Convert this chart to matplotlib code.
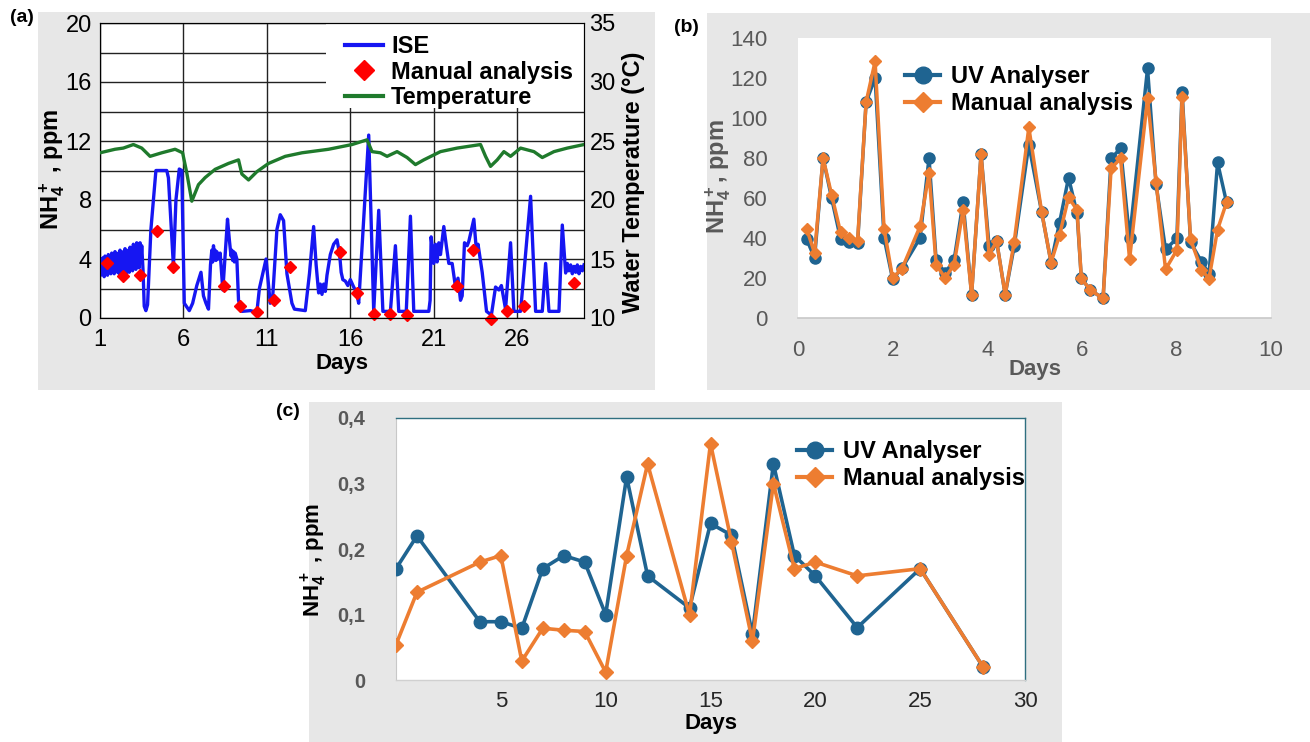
import matplotlib
matplotlib.use('Agg')
import matplotlib.pyplot as plt
from matplotlib.patches import Rectangle
from matplotlib.lines import Line2D

# ---------------- data : panel (a) ----------------
ise_day = [1.00, 1.05, 1.10, 1.15, 1.20, 1.25, 1.30, 1.35, 1.40, 1.45, 1.50, 1.55, 1.60, 1.65,
           1.70, 1.75, 1.80, 1.85, 1.90, 1.95, 2.00, 2.05, 2.10, 2.15, 2.20, 2.25, 2.30, 2.35,
           2.40, 2.45, 2.50, 2.55, 2.60, 2.65, 2.70, 2.75, 2.80, 2.85, 2.90, 2.95, 3.00, 3.05,
           3.10, 3.15, 3.20, 3.25, 3.30, 3.35, 3.40, 3.45, 3.50, 3.58, 3.65, 3.75, 3.85, 4.05,
           4.35, 4.50, 5.00, 5.10, 5.40, 5.55, 5.75, 5.90, 6.05, 6.35, 6.55, 6.80, 7.05, 7.20,
           7.35, 7.50, 7.62, 7.70, 7.75, 7.80, 7.85, 7.90, 7.95, 8.00, 8.08, 8.20, 8.36, 8.64,
           8.75, 8.85, 8.90, 8.95, 9.00, 9.05, 9.10, 9.20, 9.30, 9.50, 10.00, 10.40, 10.55, 10.95,
           11.20, 11.35, 11.60, 11.80, 12.00, 12.20, 12.50, 12.65, 13.30, 13.55, 13.80, 13.95,
           14.10, 14.20, 14.30, 14.40, 14.50, 14.60, 14.80, 15.00, 15.20, 15.35, 15.45, 15.55,
           15.70, 15.85, 16.00, 16.20, 16.35, 16.50, 17.10, 17.40, 17.70, 17.95, 18.40, 18.70,
           18.90, 19.35, 19.60, 19.80, 20.70, 20.78, 20.84, 21.00, 21.10, 21.20, 21.30, 21.40,
           21.60, 21.75, 21.90, 22.10, 22.30, 22.45, 22.60, 22.70, 22.84, 23.00, 23.10, 23.40,
           23.55, 23.65, 23.90, 24.16, 24.45, 24.70, 24.90, 25.05, 25.30, 25.60, 25.80, 26.20,
           26.80, 27.10, 27.50, 27.70, 27.90, 28.50, 28.70, 28.90, 29.00, 29.10, 29.20, 29.30,
           29.40, 29.50, 29.60, 29.70, 29.80, 29.90, 30.00]
ise_val = [3.5, 2.9, 4.0, 3.0, 4.1, 2.8, 4.2, 3.1, 4.0, 2.9, 4.3, 3.2, 4.1, 3.0,
           4.4, 3.1, 4.2, 3.0, 4.5, 3.2, 4.3, 3.1, 4.4, 3.0, 4.6, 3.3, 4.4, 3.1,
           4.5, 3.2, 4.7, 3.0, 4.5, 3.3, 4.6, 3.1, 4.8, 3.4, 4.6, 3.2, 5.0, 3.5,
           4.9, 3.3, 5.1, 3.6, 5.0, 3.4, 5.1, 3.8, 4.9, 3.2, 0.8, 0.5, 0.9, 6.0,
           10.0, 10.0, 10.0, 9.5, 3.5, 8.0, 10.1, 10.0, 1.0, 0.5, 1.0, 2.2, 3.1, 1.5,
           1.0, 0.6, 3.6, 4.6, 3.8, 4.9, 4.0, 4.6, 3.9, 4.5, 4.0, 4.4, 1.9, 6.7,
           5.3, 4.2, 4.6, 3.9, 4.5, 3.8, 4.4, 4.0, 1.2, 0.45, 0.5, 0.4, 2.0, 4.0,
           1.0, 1.5, 6.0, 7.0, 6.6, 3.0, 1.0, 0.6, 0.5, 3.0, 6.2, 3.6,
           1.7, 2.3, 1.6, 2.3, 1.8, 2.9, 4.3, 5.0, 5.3, 4.4, 3.1, 2.6,
           2.5, 2.2, 2.6, 2.1, 1.8, 1.0, 12.4, 0.45, 7.3, 0.45, 0.45, 4.9,
           0.45, 0.45, 6.9, 0.45, 0.45, 1.2, 5.5, 3.7, 5.0, 3.8, 5.1, 4.3,
           6.2, 4.9, 3.7, 3.7, 2.1, 2.7, 1.2, 1.5, 5.1, 4.9, 5.2, 6.7,
           4.6, 5.0, 3.1, 0.45, 0.2, 2.1, 1.9, 2.2, 0.6, 5.1, 0.45, 0.45,
           8.25, 0.45, 0.45, 3.7, 0.45, 0.45, 6.3, 3.05, 3.7, 3.2, 3.6, 3.0,
           3.5, 3.1, 3.6, 3.0, 3.5, 3.2, 3.6]

temp_day = [1.0, 1.9, 2.4, 3.0, 3.5, 4.0, 4.7, 5.5, 5.95, 6.2, 6.5, 6.9, 7.3, 7.9, 8.7, 9.3,
            9.5, 9.9, 10.4, 11.1, 12.1, 13.1, 14.7, 16.1, 17.0, 17.3, 17.8, 18.2, 18.8, 19.4,
            19.9, 20.4, 21.4, 22.4, 23.8, 24.1, 24.4, 24.8, 25.2, 25.6, 26.2, 27.0, 27.5, 28.2,
            29.0, 30.0]
temp_val = [24.0, 24.3, 24.4, 24.7, 24.4, 23.7, 24.0, 24.3, 24.0, 22.3, 19.9, 21.3, 21.9, 22.6,
            23.1, 23.4, 22.2, 21.7, 22.4, 23.1, 23.7, 24.0, 24.3, 24.7, 25.1, 24.1, 24.0, 23.7,
            24.1, 23.6, 23.0, 23.4, 24.1, 24.4, 24.7, 23.7, 22.85, 23.4, 24.1, 23.7, 24.4, 24.1,
            23.6, 24.1, 24.4, 24.7]

manA_day = [1.4, 2.4, 3.4, 4.4, 5.4, 8.4, 9.4, 10.4, 11.4, 12.4, 15.4, 16.4, 17.4, 18.36,
            19.4, 22.4, 23.36, 24.4, 25.4, 26.4, 29.4]
manA_val = [3.73, 2.82, 2.94, 5.88, 3.46, 2.15, 0.84, 0.38, 1.2, 3.46, 4.45, 1.7, 0.28, 0.28,
            0.23, 2.2, 4.6, -0.07, 0.45, 0.8, 2.37]

a_xticks = [1, 6, 11, 16, 21, 26]
a_yticks = [0, 4, 8, 12, 16, 20]
a_ticks_temp = [10, 15, 20, 25, 30, 35]

# ---------------- data : panel (b) ----------------
days_b = [0.18, 0.35, 0.53, 0.71, 0.90, 1.08, 1.26, 1.44, 1.63, 1.82, 2.00, 2.20, 2.58, 2.77,
          2.92, 3.11, 3.30, 3.49, 3.67, 3.87, 4.04, 4.20, 4.38, 4.57, 4.88, 5.15, 5.35, 5.53,
          5.72, 5.90, 5.99, 6.18, 6.45, 6.62, 6.82, 7.01, 7.39, 7.57, 7.77, 8.01, 8.12, 8.30,
          8.53, 8.69, 8.87, 9.06]
uv_b = [39.5, 30, 80, 60, 39.5, 38, 37.5, 108, 120, 40, 19.5, 25, 40, 80,
        29, 22.5, 29, 58, 11.7, 82, 35.8, 38.3, 11.7, 35.8, 86.7, 53.2, 27.7, 47.7,
        70.2, 52.3, 19.8, 14, 9.8, 79.8, 84.8, 39.8, 124.8, 66.8, 34.3, 39.8, 113.2, 37.8,
        28.2, 22, 77.8, 57.8]
man_b = [44.7, 32.5, 80, 61.7, 42.8, 40, 38.7, 108, 128.3, 44.7, 20, 24.7, 45.8, 72.5,
         26.7, 20, 26.7, 54.2, 11.7, 82, 31.7, 38.3, 11.7, 38, 95.3, 53.2, 27.7, 41.5,
         60.3, 54, 19.8, 14, 9.8, 74.8, 79.8, 29.3, 109.8, 68.2, 24.3, 34, 110.3, 39.3,
         24, 19.7, 44.2, 57.8]
b_xticks = [0, 2, 4, 6, 8, 10]
b_yticks = [0, 20, 40, 60, 80, 100, 120, 140]

# ---------------- data : panel (c) ----------------
days_c = [0, 1, 4, 5, 6, 7, 8, 9, 10, 11, 12, 14, 15, 16, 17, 18, 19, 20, 22, 25, 28]
uv_c = [0.170, 0.220, 0.089, 0.089, 0.079, 0.170, 0.190, 0.180, 0.100, 0.310, 0.159,
        0.110, 0.239, 0.221, 0.070, 0.330, 0.190, 0.159, 0.080, 0.170, 0.020]
man_c = [0.054, 0.134, 0.180, 0.190, 0.029, 0.079, 0.076, 0.074, 0.012, 0.190, 0.330,
         0.099, 0.361, 0.211, 0.059, 0.300, 0.170, 0.180, 0.159, 0.170, 0.020]
c_xticks = [5, 10, 15, 20, 25, 30]
c_yticks = [0, 0.1, 0.2, 0.3, 0.4]
c_ylabels = ['0', '0,1', '0,2', '0,3', '0,4']

# ---------------- style ----------------
plt.rcParams['font.family'] = ['Liberation Sans', 'DejaVu Sans']
plt.rcParams['mathtext.default'] = 'regular'

W, H = 1310, 742
fig = plt.figure(figsize=(13.1, 7.42), dpi=100)
fig.patch.set_facecolor('white')


def box(x1, y1, x2, y2):
    return [x1 / W, 1 - y2 / H, (x2 - x1) / W, (y2 - y1) / H]


def fx(x):
    return x / W


def fy(y):
    return 1 - y / H


GRAY_BG = '#e7e7e7'
for (x1, y1, x2, y2) in [(38, 12, 655, 390), (707, 13, 1310, 390), (309, 402, 1062, 742)]:
    fig.patches.append(Rectangle((fx(x1), fy(y2)), (x2 - x1) / W, (y2 - y1) / H,
                                 transform=fig.transFigure, facecolor=GRAY_BG,
                                 edgecolor='none', zorder=-10))

BLUE_A = '#1616f2'
GREEN_A = '#1f7a2c'
UV = '#1f6491'
OR = '#ED7D31'
TICKG = '#595959'

# ================= panel (a) =================
axA = fig.add_axes(box(100, 23, 584, 318))
axA.set_facecolor('white')
axA.plot(ise_day, ise_val, color=BLUE_A, lw=2.4, zorder=3)
axA.plot(manA_day, manA_val, ls='none', marker='D', color='red', ms=6, zorder=4, clip_on=False)
axA.set_xlim(1, 30)
axA.set_ylim(0, 20)
axA.set_xticks(a_xticks)
axA.set_yticks(a_yticks)
axA.set_yticks([2, 6, 10, 14, 18], minor=True)
axA.grid(axis='y', which='both', color='#222222', lw=1.0, zorder=1)
axA.grid(axis='x', which='major', color='#222222', lw=1.0, zorder=1)
axA.tick_params(which='both', direction='in', length=0, labelsize=17, pad=6)
axA.tick_params(axis='x', pad=8)
for s in axA.spines.values():
    s.set_color('#222222')
axA.add_patch(Rectangle((0.467, 0.712), 0.533, 0.288, transform=axA.transAxes,
                        facecolor='white', edgecolor='none', zorder=2))
axA.set_ylabel('NH$_4^+$ , ppm', fontsize=17, fontweight='bold')
axA.yaxis.set_label_coords((67 - 100) / 484, (318 - 169) / 295)
axA.set_xlabel('Days', fontsize=16, fontweight='bold')
axA.xaxis.set_label_coords(0.5, (318 - 353) / 295)

axT = axA.twinx()
axT.plot(temp_day, temp_val, color=GREEN_A, lw=2.4, zorder=3)
axT.set_ylim(10, 35)
axT.set_yticks(a_ticks_temp)
axT.tick_params(direction='in', length=0, labelsize=17, pad=4)
axT.set_ylabel('Water Temperature (°C)', fontsize=17, fontweight='bold')
axT.yaxis.set_label_coords((622 - 100) / 484, (318 - 182) / 295)

hA = [Line2D([], [], color=BLUE_A, lw=3),
      Line2D([], [], color='red', marker='D', ls='none', ms=10),
      Line2D([], [], color=GREEN_A, lw=3)]
legA = axT.legend(hA, ['ISE', 'Manual analysis', 'Temperature'], loc='center left',
                  bbox_to_anchor=(fx(345), fy(72)), bbox_transform=fig.transFigure,
                  frameon=False, prop={'weight': 'bold', 'size': 17}, handlelength=1.6,
                  handletextpad=0.35, labelspacing=0.1, borderpad=0, borderaxespad=0)
fig.text(fx(22), fy(18), '(a)', fontsize=14, fontweight='bold', ha='center', va='center')

# ================= panel (b) =================
axB = fig.add_axes(box(798, 38, 1271, 318))
axB.set_facecolor('white')
axB.plot(days_b, uv_b, color=UV, lw=2.5, marker='o', ms=8, zorder=3)
axB.plot(days_b, man_b, color=OR, lw=2.5, marker='D', ms=6.5, zorder=4)
axB.set_xlim(0, 10)
axB.set_ylim(0, 140)
axB.set_xticks(b_xticks)
axB.set_yticks(b_yticks)
for k in ['top', 'right', 'left']:
    axB.spines[k].set_visible(False)
axB.spines['bottom'].set_color('#c8c8c8')
axB.spines['bottom'].set_linewidth(1.2)
axB.tick_params(length=0, labelsize=16, labelcolor=TICKG)
axB.tick_params(axis='y', pad=22)
axB.tick_params(axis='x', pad=16)
axB.set_ylabel('NH$_4^+$, ppm', fontsize=17, fontweight='bold', color=TICKG)
axB.yaxis.set_label_coords((733 - 798) / 473, (318 - 177) / 280)
axB.set_xlabel('Days', fontsize=16, fontweight='bold', color=TICKG)
axB.xaxis.set_label_coords(0.5, (318 - 359) / 280)
hB = [Line2D([], [], color=UV, lw=3, marker='o', ms=12),
      Line2D([], [], color=OR, lw=3, marker='D', ms=10)]
axB.legend(hB, ['UV Analyser', 'Manual analysis'], loc='center left',
           bbox_to_anchor=(fx(905), fy(90)), bbox_transform=fig.transFigure,
           frameon=False, prop={'weight': 'bold', 'size': 17}, handlelength=1.5,
           handletextpad=0.45, labelspacing=0.15, borderpad=0, borderaxespad=0)
fig.text(fx(686), fy(27), '(b)', fontsize=14, fontweight='bold', ha='center', va='center')

# ================= panel (c) =================
axC = fig.add_axes(box(396, 418, 1025, 680))
axC.set_facecolor('white')
axC.plot(days_c, uv_c, color=UV, lw=2.6, marker='o', ms=9, zorder=3)
axC.plot(days_c, man_c, color=OR, lw=2.6, marker='D', ms=7, zorder=4)
axC.set_xlim(0, 30)
axC.set_ylim(0, 0.4)
axC.set_xticks(c_xticks)
axC.set_yticks(c_yticks)
axC.set_yticklabels(c_ylabels)
for k in ['top', 'right', 'bottom']:
    axC.spines[k].set_color('#2f6f80')
    axC.spines[k].set_linewidth(1.0)
axC.spines['bottom'].set_color('#d0d0d0')
axC.spines['left'].set_color('#c8c8c8')
axC.tick_params(length=0)
axC.tick_params(axis='y', labelsize=14.5, labelcolor=TICKG, pad=22)
for t in axC.get_yticklabels():
    t.set_fontweight('bold')
axC.tick_params(axis='x', labelsize=16, labelcolor='#262626', pad=8)
axC.set_ylabel('NH$_4^+$ , ppm', fontsize=16, fontweight='bold')
axC.yaxis.set_label_coords((329 - 396) / 629, (680 - 560) / 262)
axC.set_xlabel('Days', fontsize=16, fontweight='bold')
axC.xaxis.set_label_coords(0.5, (680 - 713) / 262)
hC = [Line2D([], [], color=UV, lw=3, marker='o', ms=12),
      Line2D([], [], color=OR, lw=3, marker='D', ms=10)]
axC.legend(hC, ['UV Analyser', 'Manual analysis'], loc='center left',
           bbox_to_anchor=(fx(797), fy(465)), bbox_transform=fig.transFigure,
           frameon=False, prop={'weight': 'bold', 'size': 17}, handlelength=1.5,
           handletextpad=0.45, labelspacing=0.15, borderpad=0, borderaxespad=0)
fig.text(fx(288), fy(412), '(c)', fontsize=14, fontweight='bold', ha='center', va='center')

fig.savefig('out.png', dpi=100)
